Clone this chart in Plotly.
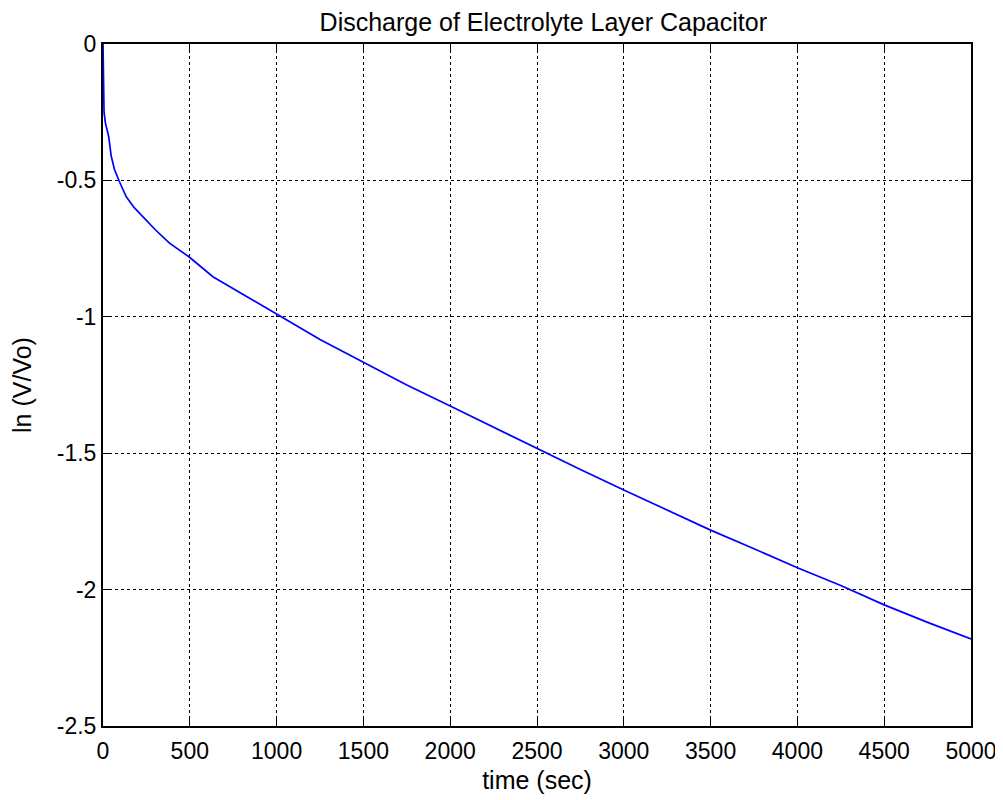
import plotly.graph_objects as go

time_sec = [0, 2, 6, 14, 33, 47, 66, 95, 134, 180, 230, 300, 383, 495, 633, 825,
            1000, 1250, 1500, 1750, 2000, 2250, 2500, 2750, 3000, 3250, 3500,
            3750, 4000, 4250, 4500, 4750, 5000]
ln_ratio = [0, -0.21, -0.25, -0.29, -0.34, -0.41, -0.46, -0.505, -0.56, -0.60,
            -0.633, -0.68, -0.73, -0.78, -0.853, -0.926, -0.99, -1.083, -1.168,
            -1.25, -1.327, -1.405, -1.482, -1.56, -1.635, -1.71, -1.782, -1.85,
            -1.92, -1.985, -2.056, -2.12, -2.181]

x_tickvals = [0, 500, 1000, 1500, 2000, 2500, 3000, 3500, 4000, 4500, 5000]
x_ticktext = ["0", "500", "1000", "1500", "2000", "2500", "3000", "3500", "4000", "4500", "5000"]
y_tickvals = [-2.5, -2, -1.5, -1, -0.5, 0]
y_ticktext = ["-2.5", "-2", "-1.5", "-1", "-0.5", "0"]

FONT = "Liberation Sans, Arial, sans-serif"

fig = go.Figure()
fig.add_trace(go.Scatter(x=time_sec, y=ln_ratio, mode="lines",
                         line=dict(color="rgb(0,0,255)", width=1.7),
                         showlegend=False))

axis_common = dict(
    showline=True, linecolor="black", linewidth=2, mirror="ticks",
    ticks="inside", ticklen=8, tickcolor="black", tickwidth=1,
    showgrid=True, gridcolor="black", gridwidth=1, griddash="dot",
    zeroline=False, tickfont=dict(family=FONT, size=23, color="black"),
)

fig.update_xaxes(range=[0, 5000], tickvals=x_tickvals, ticktext=x_ticktext,
                 title=dict(text="time (sec)", font=dict(family=FONT, size=25, color="black"), standoff=9),
                 ticklabelstandoff=3, **axis_common)
fig.update_yaxes(range=[-2.5, 0], tickvals=y_tickvals, ticktext=y_ticktext,
                 title=dict(text="ln (V/Vo)", font=dict(family=FONT, size=25, color="black"), standoff=19),
                 ticklabelstandoff=0, **axis_common)

# page body has an 8px margin: figure is sized to fit the 1003x800 window
fig.update_layout(
    width=995, height=792,
    margin=dict(l=95, r=32, t=36, b=74, autoexpand=False),
    paper_bgcolor="white", plot_bgcolor="white",
    title=dict(text="Discharge of Electrolyte Layer Capacitor",
               font=dict(family=FONT, size=25, color="black"),
               x=0.538, xanchor="center", xref="container",
               y=1 - 14.5 / 792, yanchor="middle", yref="container"),
)

fig.write_html("out.html")
